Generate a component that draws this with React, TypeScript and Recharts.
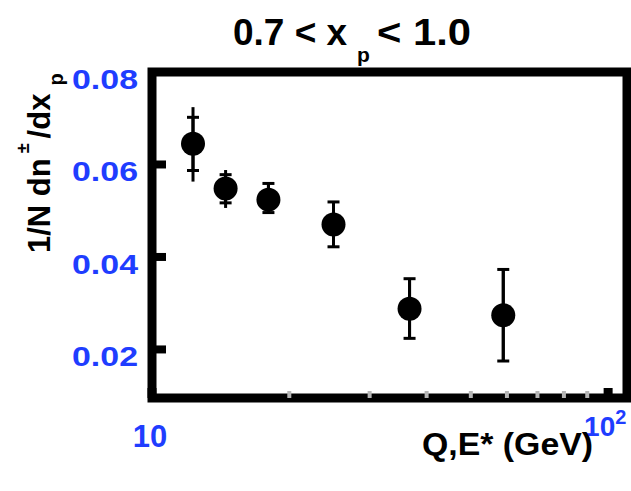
import { ErrorBar, ReferenceArea, Scatter, ScatterChart, XAxis, YAxis } from "recharts";

// Q,E* (GeV) of each measurement
const energies = [12.3, 14.5, 18.0, 25.0, 36.7, 58.9];
// 1/N dn/dxp, 0.7 < xp < 1.0
const yields = [0.0645, 0.0548, 0.0524, 0.047, 0.0288, 0.0274];
// statistical band (inner bar, with caps)
const statHigh = [0.0702, 0.0578, 0.0559, 0.0519, 0.0353, 0.0373];
const statLow = [0.0587, 0.0517, 0.0496, 0.0422, 0.0224, 0.0175];
// total band (outer line, no caps)
const totHigh = [0.0724, 0.0588, 0.0559, 0.0519, 0.0353, 0.0373];
const totLow = [0.0563, 0.0506, 0.0496, 0.0422, 0.0224, 0.0175];

const xTicks = [10, 20, 30, 40, 50, 60, 70, 80, 90, 100];
const yTicks = [0.02, 0.04, 0.06, 0.08];
const xDomain = [10, 110];
const yDomain = [0.0095, 0.08];

const points = energies.map((q, i) => ({
  q,
  v: yields[i],
  stat: [yields[i] - statLow[i], statHigh[i] - yields[i]],
  tot: [yields[i] - totLow[i], totHigh[i] - yields[i]],
}));

const BLUE = "#1f3dff";
const FONT = '"Liberation Sans", Arial, Helvetica, sans-serif';
const Y_TICK_MARGIN = 14;

const YTick = (props: any) => {
  const { x, y, payload } = props;
  const axisX = x + Y_TICK_MARGIN;
  return (
    <g>
      <line x1={axisX} x2={axisX + 14} y1={y} y2={y} stroke="#000" strokeWidth={8} />
      <text
        x={x}
        y={y + 17}
        textAnchor="end"
        fill={BLUE}
        fontSize={28}
        fontWeight="bold"
        fontFamily={FONT}
        textLength={66}
        lengthAdjust="spacingAndGlyphs"
      >
        {Number(payload.value).toFixed(2)}
      </text>
    </g>
  );
};

const XTick = (props: any) => {
  const { x, y, payload } = props;
  const v = payload.value;
  const major = v === 10 || v === 100;
  return (
    <g>
      <line
        x1={x}
        x2={x}
        y1={y}
        y2={y - (major ? 10 : 7)}
        stroke={major ? "#000" : "#b5b5b5"}
        strokeWidth={major ? 9 : 4}
      />
      {v === 10 && (
        <text x={x - 2} y={y + 49} textAnchor="middle" fill={BLUE} fontSize={31} fontWeight="bold" fontFamily={FONT}>
          10
        </text>
      )}
      {v === 100 && (
        <text x={x - 24} y={y + 38} fill={BLUE} fontSize={28} fontWeight="bold" fontFamily={FONT}>
          10
          <tspan dy={-12} fontSize={20}>
            2
          </tspan>
        </text>
      )}
    </g>
  );
};

const Dot = (props: any) => <circle cx={props.cx} cy={props.cy} r={12} fill="#000" />;

export default function App() {
  return (
    <div style={{ position: "absolute", left: 0, top: 0, width: 631, height: 491, background: "#fff" }}>
      <ScatterChart width={631} height={491} margin={{ top: 72, right: 4, bottom: 0, left: 0 }}>
        <XAxis
          type="number"
          dataKey="q"
          scale="log"
          domain={xDomain}
          ticks={xTicks}
          interval={0}
          height={93}
          tickSize={0}
          tickMargin={0}
          axisLine={false}
          tickLine={false}
          tick={XTick}
          allowDataOverflow
        />
        <YAxis
          type="number"
          dataKey="v"
          domain={yDomain}
          ticks={yTicks}
          interval={0}
          width={152}
          tickSize={0}
          tickMargin={Y_TICK_MARGIN}
          axisLine={false}
          tickLine={false}
          tick={YTick}
          allowDataOverflow
        />
        <ReferenceArea
          x1={xDomain[0]}
          x2={xDomain[1]}
          y1={yDomain[0]}
          y2={yDomain[1]}
          fill="none"
          fillOpacity={0}
          stroke="#000"
          strokeWidth={9}
          ifOverflow="visible"
        />
        <Scatter data={points} shape={Dot} isAnimationActive={false}>
          <ErrorBar dataKey="tot" direction="y" width={0} stroke="#000" strokeWidth={3} isAnimationActive={false} />
          <ErrorBar dataKey="stat" direction="y" width={6} stroke="#000" strokeWidth={3} isAnimationActive={false} />
        </Scatter>
      </ScatterChart>
      <svg
        width={631}
        height={491}
        style={{ position: "absolute", left: 0, top: 0, pointerEvents: "none" }}
        fontFamily={FONT}
        fontWeight="bold"
      >
        <text x={233} y={45} fontSize={37}>
          0.7 &lt; x
        </text>
        <text x={357} y={62} fontSize={21}>
          p
        </text>
        <text x={377} y={45} fontSize={37} textLength={94} lengthAdjust="spacingAndGlyphs">
          &lt; 1.0
        </text>
        <text transform="translate(50,253) rotate(-90)" fontSize={31}>
          1/N dn
          <tspan dy={-21} fontSize={18}>
            {" ±"}
          </tspan>
          <tspan dy={21} dx={5} fontSize={31}>
            /dx
          </tspan>
          <tspan dy={13} dx={8} fontSize={20}>
            p
          </tspan>
        </text>
        <text x={593} y={455} textAnchor="end" fontSize={32} textLength={171} lengthAdjust="spacingAndGlyphs">
          Q,E* (GeV)
        </text>
      </svg>
    </div>
  );
}
